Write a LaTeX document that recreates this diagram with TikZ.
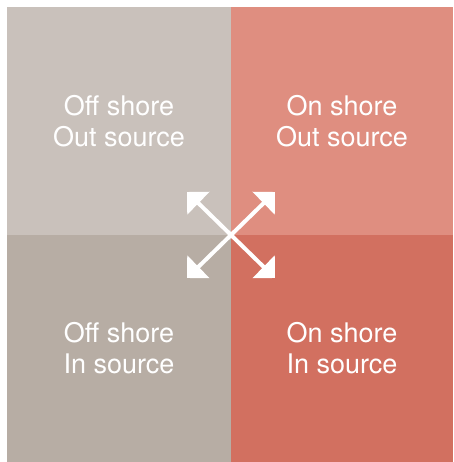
\documentclass[tikz,border=0pt]{standalone}
\usepackage{fontspec}
\setmainfont{TeX Gyre Heros}
\usetikzlibrary{arrows.meta}
\definecolor{offoutcol}{RGB}{201,193,187}
\definecolor{onoutcol}{RGB}{223,142,128}
\definecolor{offincol}{RGB}{183,173,164}
\definecolor{onincol}{RGB}{210,112,96}
\begin{document}
\begin{tikzpicture}[x=1pt, y=1pt, font=\fontsize{27}{31}\selectfont,
  quad/.style={inner sep=0pt, outer sep=0pt, text=white, align=center, anchor=center},
  swap/.style={-{Triangle[width=31pt, length=16pt]}, line width=4pt, white}]
\useasboundingbox (0,0) rectangle (453,462);
\fill[white] (0,0) rectangle (453,462);
\node[quad, fill=offoutcol, minimum width=224pt, minimum height=228pt] (offout) at (119,341) {Off shore\\Out source};
\node[quad, fill=onoutcol, minimum width=222pt, minimum height=228pt] (onout) at (342,341) {On shore\\Out source};
\node[quad, fill=offincol, minimum width=224pt, minimum height=227pt] (offin) at (119,113.5) {Off shore\\In source};
\node[quad, fill=onincol, minimum width=222pt, minimum height=227pt] (onin) at (342,113.5) {On shore\\In source};
\coordinate (mid) at (231,227);
\coordinate (tipoo) at (187,270);
\coordinate (tipno) at (275,270);
\coordinate (tipoi) at (187,184);
\coordinate (tipni) at (275,184);
\draw[swap] (mid) -- (tipoo);
\draw[swap] (mid) -- (tipno);
\draw[swap] (mid) -- (tipoi);
\draw[swap] (mid) -- (tipni);
\end{tikzpicture}
\end{document}
